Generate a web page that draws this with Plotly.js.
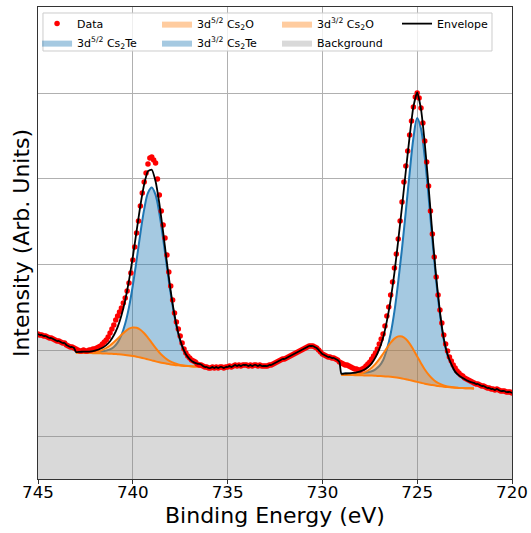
<!DOCTYPE html>
<html>
<head>
<meta charset="utf-8">
<script src="https://cdn.plot.ly/plotly-3.0.1.min.js"></script>
<style>html,body{margin:0;padding:0;background:#fff;}</style>
</head>
<body>
<div id="chart" style="width:531px;height:533px;"></div>
<script>
// Energy grid of the measured spectrum: 745.0 -> 720.0 eV in 0.1 eV steps
const energy = [];
for (let i = 0; i <= 250; i++) energy.push(+(745 - 0.1 * i).toFixed(1));

// Measured intensity (arb. units), one value per energy point
const intensity = [
  145,144,144,143,143,142,141,141,140,139,
  138,138,137,136,136,134,133,132,132,131,
  130,129,128,128,129,128,128,129,129,130,
  130,131,132,133,135,137,139,142,146,150,
  154,159,163,167,171,176,181,188,196,206,
  219,232,246,258,273,286,297,306,315,321,
  322,319,316,300,284,268,254,241,224,207,
  193,179,166,157,150,143,136,130,126,123,
  121,119,118,117,115,114,114,113,112,112,
  111,111,112,111,112,111,112,112,111,112,
  112,113,112,113,114,113,114,113,114,114,
  114,113,114,113,114,114,113,114,113,113,
  113,113,114,114,115,116,117,118,119,120,
  120,121,122,123,124,125,126,127,128,129,
  130,131,132,133,133,133,132,131,129,127,
  125,124,123,122,122,121,121,120,119,117,
  116,115,114,114,113,112,111,110,110,109,
  109,110,111,113,115,117,120,123,126,130,
  135,140,145,153,163,172,184,197,211,225,
  240,258,277,297,313,328,344,358,372,382,
  386,381,371,356,338,317,293,268,245,222,
  202,184,169,156,144,135,128,122,118,114,
  111,108,106,104,103,101,100,99,98,97,
  96,95,95,94,93,93,92,91,91,90,
  90,89,90,89,88,88,88,87,87,87,
  86
];

// Fit grids (0.2 eV) of the two fitted regions
const xLeft = [];
for (let k = 0; k <= 33; k++) xLeft.push(+(743 - 0.2 * k).toFixed(1));
const xRight = [];
for (let k = 0; k <= 35; k++) xRight.push(+(729 - 0.2 * k).toFixed(1));

// Left region (Cs 3d3/2): Shirley background, components (height above background), envelope
const bgLeft = [126.3,126.2,126.1,126.0,125.9,125.8,125.7,125.6,125.5,125.3,125.1,124.8,124.5,124.1,123.6,123.0,122.3,121.5,120.6,119.6,118.6,117.6,116.7,115.9,115.2,114.6,114.1,113.7,113.3,113.0,112.8,112.6,112.5,112.4];
const te32 = [0.8,0.9,1.0,1.1,1.2,1.4,1.7,2.1,2.9,4.3,7.0,11.6,19.3,31.3,48.3,70.5,96.6,124.2,149.0,166.6,173.0,166.6,149.0,124.2,96.6,70.5,48.3,31.3,19.3,11.6,7.0,4.3,2.9,2.1];
const ox32 = [0,0.1,0.15,0.3,0.6,1.2,2.1,3.5,5.5,8.2,11.6,15.5,19.6,23.5,26.7,28.5,28.9,27.8,25.2,21.6,17.6,13.5,9.8,6.8,4.4,2.7,1.6,0.9,0.5,0.2,0.1,0,0,0];
const envLeft = [127.1,127.2,127.3,127.4,127.7,128.4,129.5,131.2,133.9,137.8,143.7,151.9,163.4,178.9,198.6,222.0,247.8,273.5,294.8,307.8,309.2,297.7,275.5,246.9,216.2,187.8,164.0,145.9,133.1,124.8,119.9,116.9,115.4,114.5];

// Right region (Cs 3d5/2)
const bgRight = [104.0,104.0,103.9,103.9,103.8,103.7,103.6,103.5,103.4,103.2,103.0,102.8,102.5,102.2,101.8,101.3,100.6,99.8,98.9,98.0,97.1,96.2,95.3,94.6,93.9,93.3,92.8,92.3,91.9,91.6,91.3,91.1,90.9,90.8,90.7,90.6];
const te52 = [1.3,1.4,1.5,1.7,1.9,2.2,2.6,3.2,4.3,6.5,10,16,27,43,66,96,130,168,207,243,264,254,226,188,145,105,72,47,32,23,16,12.5,10,8,6.5,5.5];
const ox52 = [0,0.1,0.2,0.5,0.9,1.7,3.0,5.0,7.9,11.9,16.8,22.5,28.4,34.1,38.6,41.3,41.9,40.2,36.5,31.3,25.5,19.6,14.2,9.8,6.4,3.9,2.3,1.3,0.7,0.3,0.1,0,0,0,0,0];
const envRight = [105.3,105.5,105.6,106.1,106.6,107.6,109.2,111.7,115.6,121.6,129.8,141.3,157.9,179.3,206.4,238.6,272.5,308.0,342.4,372.3,386.6,369.8,335.5,292.4,245.3,202.2,167.1,140.6,124.6,114.9,107.4,103.6,100.9,98.8,97.2,96.1];

// Labels
const labels = {
  data: 'Data',
  te52: '3d<sup>5/2</sup> Cs<sub>2</sub>Te',
  ox52: '3d<sup>5/2</sup> Cs<sub>2</sub>O',
  te32: '3d<sup>3/2</sup> Cs<sub>2</sub>Te',
  ox32: '3d<sup>3/2</sup> Cs<sub>2</sub>O',
  bg: 'Background',
  env: 'Envelope'
};
const xTitle = 'Binding Energy (eV)';
const yTitle = 'Intensity (Arb. Units)';
const xTicks = [745, 740, 735, 730, 725, 720];

// Assemble background / envelope: measured data outside the fit regions
const bgX = energy.slice(0, 20).concat(xLeft, energy.slice(87, 160), xRight, energy.slice(231));
const bgY = intensity.slice(0, 20).concat(bgLeft, intensity.slice(87, 160), bgRight, intensity.slice(231));
const envY = intensity.slice(0, 20).concat(envLeft, intensity.slice(87, 160), envRight, intensity.slice(231));

const BLUE = '#1f77b4', ORANGE = '#ff7f0e';
const BLUE_F = 'rgba(31,119,180,0.4)', ORANGE_F = 'rgba(255,127,14,0.4)', GRAY_F = 'rgba(128,128,128,0.3)';

function stackPair(x, base, comp, group, color, fillc, baseLine) {
  return [
    {x: x, y: base, stackgroup: group, mode: 'lines', fill: 'none',
     line: {width: baseLine ? 2 : 0, color: color, shape: 'spline'}, showlegend: false, hoverinfo: 'skip'},
    {x: x, y: comp, stackgroup: group, mode: 'lines', fill: 'tonexty', fillcolor: fillc,
     line: {width: 2, color: color, shape: 'spline'}, showlegend: false, hoverinfo: 'skip'}
  ];
}

const traces = [
  {x: bgX, y: bgY, mode: 'lines', fill: 'tozeroy', fillcolor: GRAY_F, line: {width: 0},
   name: labels.bg, legend: 'legend3', legendrank: 2}
]
.concat(stackPair(xLeft, bgLeft, te32, 'teL', BLUE, BLUE_F, false))
.concat(stackPair(xRight, bgRight, te52, 'teR', BLUE, BLUE_F, false))
.concat(stackPair(xLeft, bgLeft, ox32, 'oxL', ORANGE, ORANGE_F, true))
.concat(stackPair(xRight, bgRight, ox52, 'oxR', ORANGE, ORANGE_F, true))
.concat([
  {x: energy, y: intensity, mode: 'markers', marker: {color: 'red', size: 5.5},
   name: labels.data, legend: 'legend', legendrank: 1},
  {x: bgX, y: envY, mode: 'lines', line: {color: 'black', width: 1.8, shape: 'spline', smoothing: 0.5},
   name: labels.env, legend: 'legend4', legendrank: 1},
  {x: [null], y: [null], mode: 'lines', fill: 'toself', fillcolor: BLUE_F, line: {width: 0},
   name: labels.te52, legend: 'legend', legendrank: 2},
  {x: [null], y: [null], mode: 'lines', fill: 'toself', fillcolor: ORANGE_F, line: {width: 0},
   name: labels.ox52, legend: 'legend2', legendrank: 1},
  {x: [null], y: [null], mode: 'lines', fill: 'toself', fillcolor: BLUE_F, line: {width: 0},
   name: labels.te32, legend: 'legend2', legendrank: 2},
  {x: [null], y: [null], mode: 'lines', fill: 'toself', fillcolor: ORANGE_F, line: {width: 0},
   name: labels.ox32, legend: 'legend3', legendrank: 1}
]);

const legBase = {y: 0.9955, xanchor: 'left', yanchor: 'top', bgcolor: 'rgba(0,0,0,0)', borderwidth: 0,
  traceorder: 'normal',
  font: {family: 'DejaVu Sans', size: 11, color: '#000'}, tracegroupgap: 0};

const layout = {
  width: 531, height: 533,
  margin: {l: 38, r: 19, t: 7, b: 54, pad: 0},
  paper_bgcolor: '#fff', plot_bgcolor: '#fff',
  font: {family: 'DejaVu Sans', color: '#000'},
  showlegend: true,
  xaxis: {
    range: [745, 720], tickvals: xTicks, ticktext: xTicks.map(String),
    ticks: 'outside', ticklen: 4, tickwidth: 1, tickcolor: '#333', ticklabelstandoff: -6,
    tickfont: {family: 'DejaVu Sans', size: 16.7, color: '#000'},
    showgrid: true, gridcolor: '#b0b0b0', gridwidth: 1,
    showline: true, mirror: true, linecolor: '#333', linewidth: 1, zeroline: false,
    automargin: false
  },
  yaxis: {
    range: [0, 472], tick0: 43, dtick: 85.75, tickmode: 'linear',
    showticklabels: false, ticks: '',
    showgrid: true, gridcolor: '#b0b0b0', gridwidth: 1,
    showline: true, mirror: true, linecolor: '#333', linewidth: 1, zeroline: false,
    automargin: false,
    title: {text: yTitle, font: {family: 'DejaVu Sans', size: 22, color: '#000'}, standoff: 1}
  },
  annotations: [{
    text: xTitle, xref: 'paper', yref: 'paper', x: 0.5, y: -0.049,
    xanchor: 'center', yanchor: 'top', showarrow: false, borderpad: 0,
    font: {family: 'DejaVu Sans', size: 22, color: '#000'}
  }],
  legend: Object.assign({}, legBase, {x: -0.002}),
  legend2: Object.assign({}, legBase, {x: 0.2511}),
  legend3: Object.assign({}, legBase, {x: 0.5042}),
  legend4: Object.assign({}, legBase, {x: 0.7574}),
  shapes: [{
    type: 'rect', xref: 'paper', yref: 'paper', x0: 0.0105, x1: 0.9578, y0: 0.9068, y1: 0.9873,
    fillcolor: 'rgba(255,255,255,0.8)', line: {color: '#cccccc', width: 1}, layer: 'above'
  }]
};

Plotly.newPlot('chart', traces, layout, {displayModeBar: false, staticPlot: true});
</script>
</body>
</html>
